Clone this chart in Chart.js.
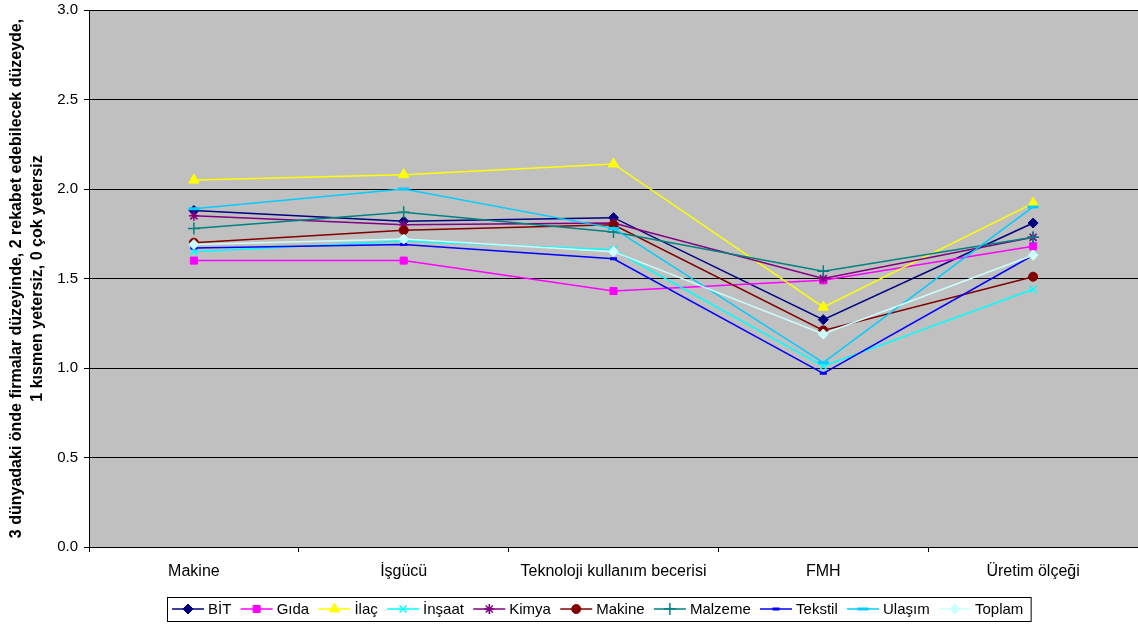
<!DOCTYPE html>
<html>
<head>
<meta charset="utf-8">
<script src="https://cdn.jsdelivr.net/npm/chart.js@4/dist/chart.umd.min.js"></script>
<style>
  html, body { margin: 0; padding: 0; background: #fff; }
  canvas { display: block; }
</style>
</head>
<body>
<canvas id="c" width="1138" height="626"></canvas>
<script>
// Categories (x axis)
const categories = ['Makine', 'İşgücü', 'Teknoloji kullanım becerisi', 'FMH', 'Üretim ölçeği'];

// Series values per sector
const bit     = [1.88, 1.82, 1.84, 1.27, 1.81];
const gida    = [1.60, 1.60, 1.43, 1.49, 1.68];
const ilac    = [2.05, 2.08, 2.14, 1.34, 1.92];
const insaat  = [1.65, 1.71, 1.66, 1.01, 1.44];
const kimya   = [1.85, 1.80, 1.81, 1.50, 1.73];
const makine  = [1.70, 1.77, 1.80, 1.21, 1.51];
const malzeme = [1.78, 1.87, 1.76, 1.54, 1.73];
const tekstil = [1.67, 1.69, 1.61, 0.97, 1.63];
const ulasim  = [1.89, 2.00, 1.78, 1.03, 1.90];
const toplam  = [1.69, 1.72, 1.65, 1.19, 1.63];

const seriesNames = ['BİT', 'Gıda', 'İlaç', 'İnşaat', 'Kimya', 'Makine', 'Malzeme', 'Tekstil', 'Ulaşım', 'Toplam'];
const seriesData  = [bit, gida, ilac, insaat, kimya, makine, malzeme, tekstil, ulasim, toplam];

// Y axis tick labels
const yTicks = ['0.0', '0.5', '1.0', '1.5', '2.0', '2.5', '3.0'];

const yTitle = ['3 dünyadaki önde firmalar düzeyinde, 2 rekabet edebilecek düzeyde,',
                '1 kısmen yetersiz, 0 çok yetersiz'];

// Visual style of each series
const styles = [
  { color: '#000080', fill: '#000080', point: 'rectRot',  r: 5,   bw: 1 },
  { color: '#FF00FF', fill: '#FF00FF', point: 'rect',     r: 5,   bw: 1 },
  { color: '#FFFF00', fill: '#FFFF00', point: 'triangle', r: 6,   bw: 1 },
  { color: '#00FFFF', fill: '#00FFFF', point: 'crossRot', r: 5,   bw: 1.5 },
  { color: '#800080', fill: '#800080', point: 'star',     r: 5,   bw: 1.5 },
  { color: '#800000', fill: '#800000', point: 'circle',   r: 4.5, bw: 1 },
  { color: '#008080', fill: '#008080', point: 'cross',    r: 6,   bw: 1.5 },
  { color: '#0000FF', fill: '#0000FF', point: 'line',     r: 3.5, bw: 3 },
  { color: '#00CCFF', fill: '#00CCFF', point: 'line',     r: 5.5, bw: 3 },
  { color: '#CCFFFF', fill: '#CCFFFF', point: 'rectRot',  r: 5,   bw: 1 }
];

const FONT = '"Liberation Sans", Arial, sans-serif';
const TEXT_SIZE = 15;

const datasets = seriesNames.map((name, i) => ({
  label: name,
  data: seriesData[i],
  borderColor: styles[i].color,
  backgroundColor: styles[i].fill,
  borderWidth: 1.5,
  pointStyle: styles[i].point,
  pointRadius: styles[i].r,
  pointHoverRadius: styles[i].r,
  pointBorderWidth: styles[i].bw,
  pointBorderColor: styles[i].color,
  pointBackgroundColor: styles[i].fill,
  tension: 0,
  fill: false,
  order: seriesNames.length - i
}));

// Gray plot background
const plotBackground = {
  id: 'plotBackground',
  beforeDraw(chart) {
    const { ctx, chartArea: a } = chart;
    ctx.save();
    ctx.fillStyle = '#C0C0C0';
    ctx.fillRect(a.left, a.top, a.right - a.left, a.bottom - a.top);
    ctx.restore();
  }
};

function drawMarker(ctx, s, x, y) {
  if (Chart.helpers && Chart.helpers.drawPoint) {
    ctx.save();
    ctx.fillStyle = s.fill;
    ctx.strokeStyle = s.color;
    ctx.lineWidth = s.bw;
    Chart.helpers.drawPoint(ctx, { pointStyle: s.point, radius: s.r, rotation: 0, borderWidth: s.bw }, x, y);
    ctx.restore();
  }
}

// Boxed legend along the bottom: line sample with marker, then name
const boxedLegend = {
  id: 'boxedLegend',
  afterDraw(chart) {
    const ctx = chart.ctx;
    const top = 597, h = 24, cy = top + h / 2, left = 167;
    ctx.save();
    ctx.font = TEXT_SIZE + 'px ' + FONT;
    ctx.textBaseline = 'middle';
    let x = left + 5;
    seriesNames.forEach((name, i) => {
      const s = styles[i];
      ctx.strokeStyle = s.color;
      ctx.lineWidth = 1.5;
      ctx.beginPath();
      ctx.moveTo(x, cy);
      ctx.lineTo(x + 32, cy);
      ctx.stroke();
      drawMarker(ctx, s, x + 16, cy);
      ctx.fillStyle = '#000';
      ctx.fillText(name, x + 36, cy + 1);
      x += 36 + ctx.measureText(name).width + 9.3;
    });
    ctx.strokeStyle = '#000';
    ctx.lineWidth = 1;
    ctx.strokeRect(left + 0.5, top + 0.5, x - left - 2, h);
    ctx.restore();
  }
};

new Chart(document.getElementById('c'), {
  type: 'line',
  data: { labels: categories, datasets },
  plugins: [plotBackground, boxedLegend],
  options: {
    responsive: false,
    animation: false,
    devicePixelRatio: 1,
    layout: { autoPadding: false, padding: { top: 10, right: 0, bottom: 0, left: 0 } },
    plugins: {
      legend: { display: false },
      tooltip: { enabled: false }
    },
    scales: {
      x: {
        type: 'category',
        offset: true,
        afterFit(scale) {
          scale.height = 79;
          scale.paddingLeft = 0;
          scale.paddingRight = 0;
        },
        grid: {
          offset: true,
          drawOnChartArea: false,
          drawTicks: true,
          tickLength: 5,
          color: '#000'
        },
        border: { display: true, color: '#000', width: 1 },
        ticks: {
          color: '#000',
          font: { family: FONT, size: 16 },
          padding: 10,
          maxRotation: 0,
          autoSkip: false
        }
      },
      y: {
        min: 0,
        max: 3,
        afterFit(scale) {
          scale.width = 89;
          scale.paddingTop = 0;
          scale.paddingBottom = 0;
        },
        afterBuildTicks(scale) {
          scale.ticks = yTicks.map(t => ({ value: parseFloat(t) }));
        },
        grid: {
          color: '#000',
          lineWidth: 1,
          tickLength: 5
        },
        border: { display: true, color: '#000', width: 1 },
        ticks: {
          color: '#000',
          font: { family: FONT, size: TEXT_SIZE },
          padding: 6,
          callback: (v) => yTicks.find(t => parseFloat(t) === v) ?? ''
        },
        title: {
          display: true,
          text: yTitle,
          color: '#000',
          font: { family: FONT, size: 16, weight: 'bold', lineHeight: 1.3 },
          padding: { top: 6, bottom: 0 }
        }
      }
    }
  }
});
</script>
</body>
</html>
